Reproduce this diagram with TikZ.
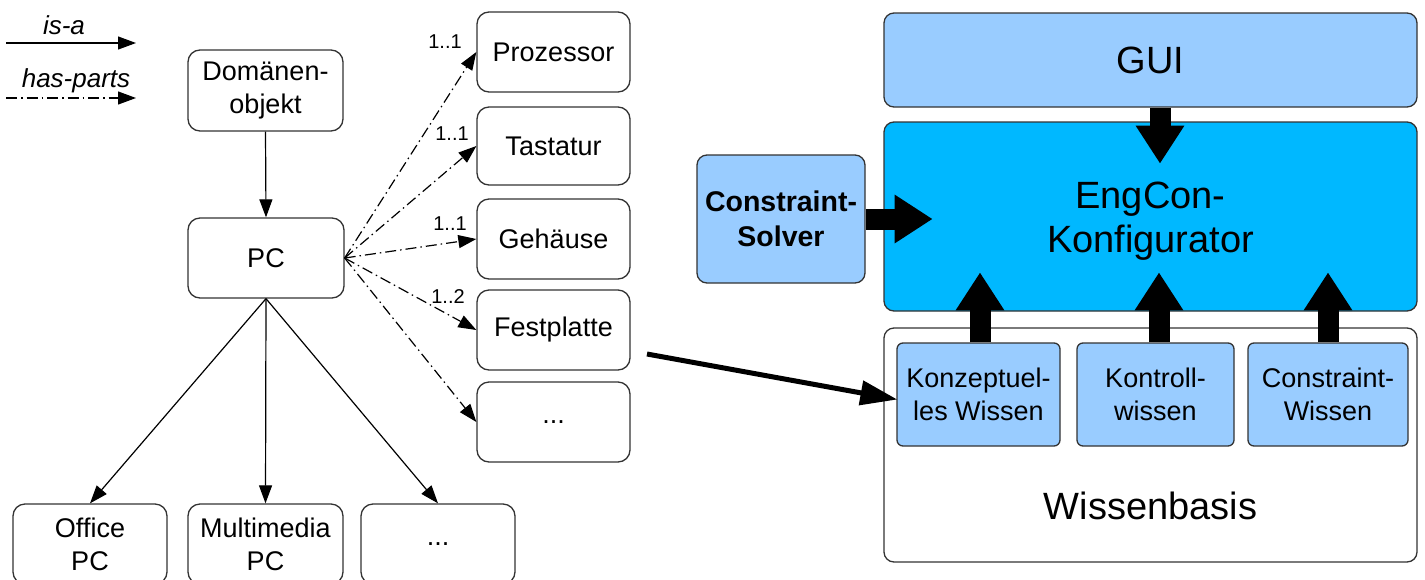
\documentclass[tikz,border=0pt]{standalone}
\usepackage{fontspec}
\setmainfont{Liberation Sans}
\usetikzlibrary{arrows.meta,calc}
\definecolor{lightb}{HTML}{99CCFF}
\definecolor{deepb}{HTML}{00B8FF}
\definecolor{bord}{HTML}{333333}
\begin{document}
\begin{tikzpicture}[x=1pt,y=-1pt,
  box/.style={draw=bord,line width=1.3pt,rounded corners=12pt,inner sep=0pt,align=center,
    font=\fontsize{27}{33}\selectfont},
  rbox/.style={draw=bord,line width=1.3pt,rounded corners=10pt,inner sep=0pt,align=center},
  isa/.style={line width=1.2pt,-{Triangle[length=18pt,width=13pt]}},
  hasp/.style={line width=1.2pt,dash pattern=on 11pt off 4pt on 1.5pt off 4pt,-{Triangle[length=18pt,width=13pt]}},
  mult/.style={font=\fontsize{20}{24}\selectfont,inner sep=0pt},
  fat/.style={line width=21pt,-{Triangle[length=38pt,width=46pt]}},
  lbl/.style={font=\fontsize{26}{30}\selectfont\itshape,inner sep=0pt}]
\useasboundingbox (0,0) rectangle (1425,579);
\clip (0,0) rectangle (1425,579);
% legend
\node[lbl] (isatxt) at (64,25) {is-a};
\coordinate (l1a) at (6,43);
\coordinate (l1b) at (136,43);
\draw[isa] (l1a) -- (l1b);
\node[lbl] (haspt) at (76,81) {has-parts};
\coordinate (l2a) at (6,98);
\coordinate (l2b) at (136,98);
\draw[hasp] (l2a) -- (l2b);
% left diagram
\node[box,minimum width=155pt,minimum height=81pt] (dom) at (265.5,90.5) {Domänen-\\objekt};
\node[box,minimum width=156pt,minimum height=80pt] (pc) at (266,258) {PC};
\node[box,minimum width=153pt,minimum height=80pt] (proz) at (553.5,52) {Prozessor};
\node[box,minimum width=153pt,minimum height=78pt] (tast) at (553.5,146) {Tastatur};
\node[box,minimum width=153pt,minimum height=80pt] (geh) at (553.5,239) {Gehäuse};
\node[box,minimum width=153pt,minimum height=80pt] (fest) at (553.5,330) {Festplatte};
\node[box,minimum width=153pt,minimum height=80pt] (dotsa) at (553.5,422) {...};
\node[box,minimum width=154pt,minimum height=80pt] (office) at (90,544) {Office\\PC};
\node[box,minimum width=155pt,minimum height=80pt] (multi) at (265.5,544) {Multimedia\\PC};
\node[box,minimum width=154pt,minimum height=80pt] (dotsb) at (438,544) {...};
\draw[isa] (dom.south) -- (pc.north);
\draw[isa] (pc.south) -- (office.north);
\draw[isa] (pc.south) -- (multi.north);
\draw[isa] (pc.south) -- (dotsb.north);
\draw[hasp] (pc.east) -- (proz.west);
\draw[hasp] (pc.east) -- (tast.west);
\draw[hasp] (pc.east) -- (geh.west);
\draw[hasp] (pc.east) -- (fest.west);
\draw[hasp] (pc.east) -- (dotsa.west);
\node[mult] (m1) at (445,42) {1..1};
\node[mult] (m2) at (452,134) {1..1};
\node[mult] (m3) at (450,224) {1..1};
\node[mult] (m4) at (448,297) {1..2};
% right diagram
\node[rbox,fill=lightb,minimum width=533pt,minimum height=94pt,font=\fontsize{38}{44}\selectfont] (gui) at (1150.5,60) {GUI};
\node[rbox,fill=deepb,minimum width=533pt,minimum height=189pt] (eng) at (1150.5,216.5) {};
\node[inner sep=0pt,align=center,font=\fontsize{38}{44}\selectfont] (engt) at ($(eng.center)+(0,5)$) {EngCon-\\Konfigurator};
\node[rbox,fill=lightb,minimum width=168pt,minimum height=128pt,font=\fontsize{28.5}{35}\selectfont\bfseries] (solver) at (781,219) {Constraint-\\Solver};
\node[rbox,fill=white,minimum width=533pt,minimum height=234pt] (wb) at (1150.5,445) {};
\node[inner sep=0pt,font=\fontsize{38}{44}\selectfont] (wbt) at (1150.5,506) {Wissenbasis};
\node[rbox,rounded corners=6pt,fill=lightb,minimum width=163pt,minimum height=103pt,font=\fontsize{27}{33}\selectfont] (konz) at (978.5,394.5) {Konzeptuel-\\les Wissen};
\node[rbox,rounded corners=6pt,fill=lightb,minimum width=157pt,minimum height=103pt,font=\fontsize{27}{33}\selectfont] (kontr) at (1155.5,394.5) {Kontroll-\\wissen};
\node[rbox,rounded corners=6pt,fill=lightb,minimum width=160pt,minimum height=103pt,font=\fontsize{27}{33}\selectfont] (cw) at (1328,394.5) {Constraint-\\Wissen};
% thick arrows
\coordinate (g1) at ($(gui.south)+(9.5,0)$);
\coordinate (g2) at ($(gui.south)+(9.5,56)$);
\draw[fat] (g1) -- (g2);
\coordinate (s2) at ($(solver.east)+(67,0)$);
\draw[fat] (solver.east) -- (s2);
\coordinate (k1) at ($(konz.north)+(1.5,0)$);
\coordinate (k2) at ($(konz.north)+(1.5,-70)$);
\draw[fat] (k1) -- (k2);
\coordinate (t1) at ($(kontr.north)+(3.5,0)$);
\coordinate (t2) at ($(kontr.north)+(3.5,-70)$);
\draw[fat] (t1) -- (t2);
\coordinate (c2) at ($(cw.north)+(0,-70)$);
\draw[fat] (cw.north) -- (c2);
% Festplatte to Konzeptuelles Wissen
\coordinate (fa) at (647,354);
\coordinate (fb) at ($(konz.west)+(1,5)$);
\draw[line width=5pt,-{Triangle[length=37pt,width=24pt]}] (fa) -- (fb);
\end{tikzpicture}
\end{document}
